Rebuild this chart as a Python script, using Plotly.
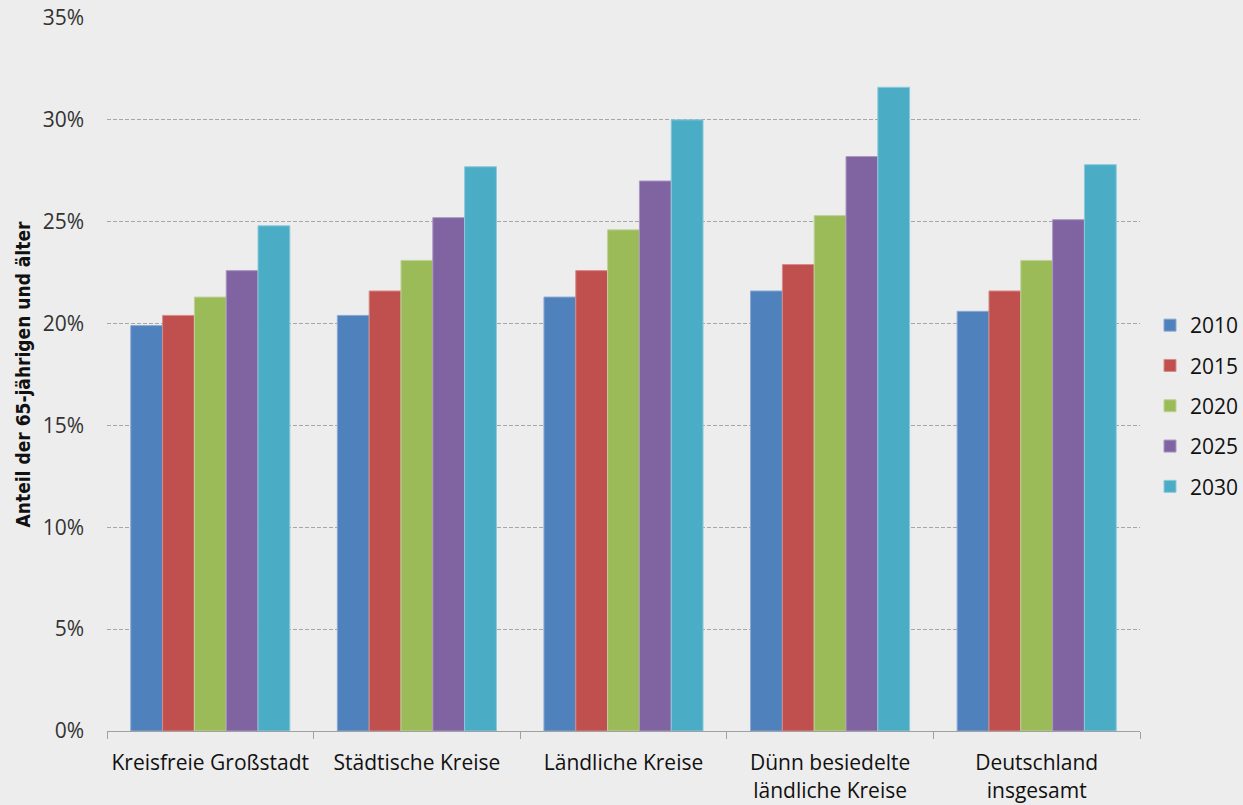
import plotly.graph_objects as go

# Regions and projection years
categories = [
    "Kreisfreie Großstadt",
    "Städtische Kreise",
    "Ländliche Kreise",
    "Dünn besiedelte<br>ländliche Kreise",
    "Deutschland<br>insgesamt",
]
years = ["2010", "2015", "2020", "2025", "2030"]

# Share of population aged 65+ (percent)
share_2010 = [19.9, 20.4, 21.3, 21.6, 20.6]
share_2015 = [20.4, 21.6, 22.6, 22.9, 21.6]
share_2020 = [21.3, 23.1, 24.6, 25.3, 23.1]
share_2025 = [22.6, 25.2, 27.0, 28.2, 25.1]
share_2030 = [24.8, 27.7, 30.0, 31.6, 27.8]
series = [share_2010, share_2015, share_2020, share_2025, share_2030]

colors = ["#4F81BD", "#C0504D", "#9BBB59", "#8064A2", "#4BACC6"]
edge_colors = ["#8AA8D2", "#D68C8A", "#BDD29A", "#AB98C2", "#8DCADB"]

tick_vals = [0, 5, 10, 15, 20, 25, 30, 35]
tick_text = ["0%", "5%", "10%", "15%", "20%", "25%", "30%", "35%"]

bg = "#EDEDED"

fig = go.Figure()
for name, vals, col, edge in zip(years, series, colors, edge_colors):
    fig.add_trace(go.Bar(
        x=categories,
        y=vals,
        name=name,
        legendgroup=name,
        marker=dict(color=col, line=dict(color=edge, width=1)),
        hovertemplate="%{x}: %{y:.1f}%<extra>" + name + "</extra>",
    ))

fig.update_layout(
    barmode="group",
    bargap=0.23,
    bargroupgap=0,
    width=1243,
    height=805,
    paper_bgcolor=bg,
    plot_bgcolor=bg,
    margin=dict(l=107, r=103, t=18, b=74, autoexpand=False),
    font=dict(family="Open Sans, Noto Sans, sans-serif", color="#1a1a1a"),
    legend=dict(
        xref="container", yref="container",
        x=1150 / 1243, y=1 - 406 / 805,
        xanchor="left", yanchor="middle",
        font=dict(size=21, color="#111111"),
        tracegroupgap=10,
        bgcolor="rgba(0,0,0,0)",
        itemwidth=30,
    ),
    showlegend=True,
)

fig.update_xaxes(
    type="category",
    automargin=False,
    tickangle=0,
    showgrid=False,
    showline=True,
    linecolor="#A0A0A0",
    linewidth=1,
    ticks="outside",
    tickson="boundaries",
    ticklen=7,
    tickcolor="#A0A0A0",
    tickfont=dict(size=21, color="#111111"),
    ticklabelstandoff=13,
    zeroline=False,
)

fig.update_yaxes(
    automargin=False,
    range=[0, 35],
    tickvals=tick_vals,
    ticktext=tick_text,
    tickfont=dict(size=21, color="#333333"),
    showgrid=True,
    gridcolor="#A6A6A6",
    gridwidth=1,
    griddash="4px,2px",
    showline=False,
    zeroline=False,
    ticks="",
    ticklabelstandoff=22,
    title=dict(
        text="<b>Anteil der 65-jährigen und älter</b>",
        font=dict(family="Liberation Sans Narrow, DejaVu Sans Condensed, sans-serif", size=19, color="#111111"),
        standoff=6,
    ),
)

fig.write_html("out.html")
